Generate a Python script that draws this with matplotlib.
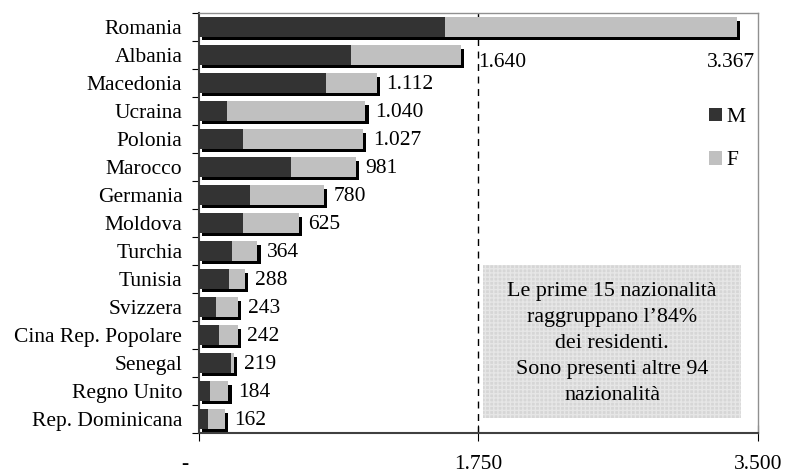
import numpy as np
import matplotlib
matplotlib.use("Agg")
import matplotlib.pyplot as plt
import matplotlib.transforms as mtransforms
from matplotlib.patches import Rectangle

plt.rcParams['font.family'] = ['Liberation Serif', 'DejaVu Serif']

paesi = ['Romania', 'Albania', 'Macedonia', 'Ucraina', 'Polonia', 'Marocco',
         'Germania', 'Moldova', 'Turchia', 'Tunisia', 'Svizzera',
         'Cina Rep. Popolare', 'Senegal', 'Regno Unito', 'Rep. Dominicana']
totale = [3367, 1640, 1112, 1040, 1027, 981, 780, 625, 364, 288, 243, 242, 219, 184, 162]
maschi = [1540, 952, 795, 173, 273, 576, 319, 273, 207, 188, 106, 125, 200, 69, 54]
etichette = ['3.367', '1.640', '1.112', '1.040', '1.027', '981', '780', '625',
             '364', '288', '243', '242', '219', '184', '162']
xticks = [0, 1750, 3500]
xticklabels = ['-     ', '1.750', '3.500']
nota = "Le prime 15 nazionalità\nraggruppano l\u201984%\ndei residenti.\nSono presenti altre 94\nnazionalità"

femmine = [t - m for t, m in zip(totale, maschi)]
y = np.arange(len(paesi))
fs = 15.5

fig = plt.figure(figsize=(7.85, 4.73), dpi=100)
ax = fig.add_axes([0.2535, 0.0846, 0.7121, 0.8879])

h = 0.68
# ombra nera sotto le barre
shadow = ax.transData + mtransforms.ScaledTranslation(2.5 / 72, -2.5 / 72, fig.dpi_scale_trans)
ax.barh(y, totale, height=h, color='black', transform=shadow, zorder=2)
ax.barh(y, maschi, height=h, color='#333333', label='M', zorder=3)
ax.barh(y, femmine, left=maschi, height=h, color='#c0c0c0', label='F', zorder=3)

ax.axvline(1750, color='black', lw=1, ls=(0, (5, 4)), zorder=1)

for i, (t, lab) in enumerate(zip(totale, etichette)):
    if i == 0:
        ax.annotate(lab, (t, 1.25), xytext=(13, 0), textcoords='offset points',
                    ha='right', va='center', fontsize=fs)
    elif i == 1:
        ax.annotate(lab, (1750, 1.25), xytext=(0, 0), textcoords='offset points',
                    ha='left', va='center', fontsize=fs)
    else:
        ax.annotate(lab, (t, i + 0.07), xytext=(7, 0), textcoords='offset points',
                    ha='left', va='center', fontsize=fs)

ax.set_xlim(0, 3500)
ax.set_ylim(len(paesi) - 0.5, -0.5)

ax.set_xticks(xticks)
ax.set_xticklabels(xticklabels, fontsize=fs)
ax.tick_params(axis='x', direction='inout', length=11, pad=10)

ax.set_yticks(np.arange(len(paesi) + 1) - 0.5)
ax.set_yticklabels([])
ax.set_yticks(y, minor=True)
ax.set_yticklabels(paesi, minor=True, fontsize=fs)
ax.tick_params(axis='y', which='major', direction='out', length=5)
ax.tick_params(axis='y', which='minor', length=0, pad=12)

for s in ['left', 'bottom']:
    ax.spines[s].set_color('#404040')
    ax.spines[s].set_linewidth(1.5)
for s in ['top', 'right']:
    ax.spines[s].set_color('#909090')
    ax.spines[s].set_linewidth(1)

# riquadro con nota
box = Rectangle((0.508, 0.036), 0.462, 0.364, transform=ax.transAxes,
                facecolor='#d6d6d6', edgecolor='#e6e6e6', hatch='++++',
                lw=0, zorder=1)
ax.add_patch(box)
ax.text(0.739, 0.213, nota, transform=ax.transAxes, ha='center', va='center',
        fontsize=15.8, linespacing=1.5, zorder=4)

ax.legend(loc='center', bbox_to_anchor=(0.945, 0.70), frameon=False,
          fontsize=fs, handlelength=0.6, handleheight=0.6, handletextpad=0.25,
          labelspacing=1.1)

fig.savefig('out.png', dpi=100)
